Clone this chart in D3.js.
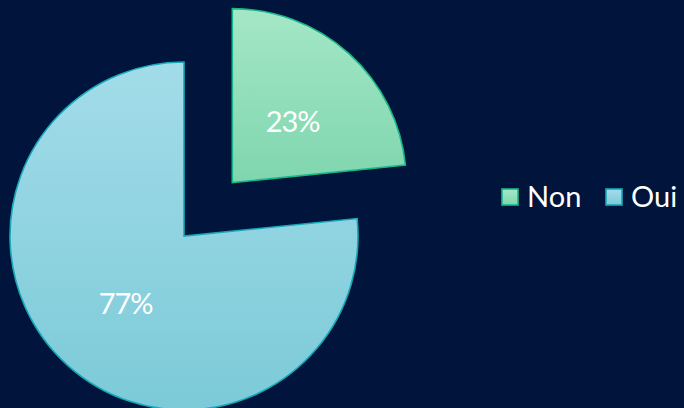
<!DOCTYPE html>
<html><head><meta charset="utf-8">
<script src="https://cdn.jsdelivr.net/npm/d3@7/dist/d3.min.js"></script>
<style>
html,body{margin:0;padding:0;background:#00143c;}
svg{display:block;}
</style></head>
<body>
<svg id="chart" width="684" height="408"></svg>
<script>
const categories = ["Non", "Oui"];
const values = [23.4, 76.6];
const labels = ["23%", "77%"];

const fillTop = ["#a4e7c7", "#a3dce9"];
const fillBot = ["#7fd6ae", "#7ccad8"];
const strokes = ["#19b787", "#17a8b8"];

const W = 684, H = 408;
const svg = d3.select("#chart");
svg.append("rect").attr("width", W).attr("height", H).attr("fill", "#00143c");

const defs = svg.append("defs");
categories.forEach((c, i) => {
  const g = defs.append("linearGradient").attr("id", "g" + i)
    .attr("x1", 0).attr("y1", 0).attr("x2", 0).attr("y2", 1);
  g.append("stop").attr("offset", "0%").attr("stop-color", fillTop[i]);
  g.append("stop").attr("offset", "100%").attr("stop-color", fillBot[i]);
});

const R = 174;
const cx = 184, cy = 236;
const explode = [72, 0];

const pie = d3.pie().sort(null).value(d => d)(values);
const arc = d3.arc().innerRadius(0).outerRadius(R);
const labelArc = d3.arc().innerRadius(R * 0.5).outerRadius(R * 0.5);

const g = svg.append("g").attr("transform", `translate(${cx},${cy})`);

pie.forEach((p, i) => {
  const mid = (p.startAngle + p.endAngle) / 2;
  const dx = Math.sin(mid) * explode[i], dy = -Math.cos(mid) * explode[i];
  const sg = g.append("g").attr("transform", `translate(${dx},${dy})`);
  sg.append("path").attr("d", arc(p))
    .attr("fill", `url(#g${i})`)
    .attr("stroke", strokes[i]).attr("stroke-width", 1.6);
  const [lx, ly] = labelArc.centroid(p);
  sg.append("text").attr("x", lx + (i === 0 ? 2 : 0)).attr("y", ly + 2)
    .attr("text-anchor", "middle").attr("dominant-baseline", "central")
    .attr("font-family", "Lato, 'Open Sans', sans-serif")
    .attr("font-size", 29).attr("letter-spacing", -1)
    .attr("fill", "#ffffff").text(labels[i]);
});

// legend
const legX = [501, 605];
const leg = svg.append("g");
categories.forEach((c, i) => {
  leg.append("rect").attr("x", legX[i] + 1).attr("y", 189).attr("width", 16).attr("height", 16)
    .attr("fill", `url(#g${i})`).attr("stroke", strokes[i]).attr("stroke-width", 1.6);
  leg.append("text").attr("x", legX[i] + 26).attr("y", 207)
    .attr("font-family", "Lato, 'Open Sans', sans-serif")
    .attr("font-size", 29).attr("fill", "#ffffff").text(c);
});
</script>
</body></html>
